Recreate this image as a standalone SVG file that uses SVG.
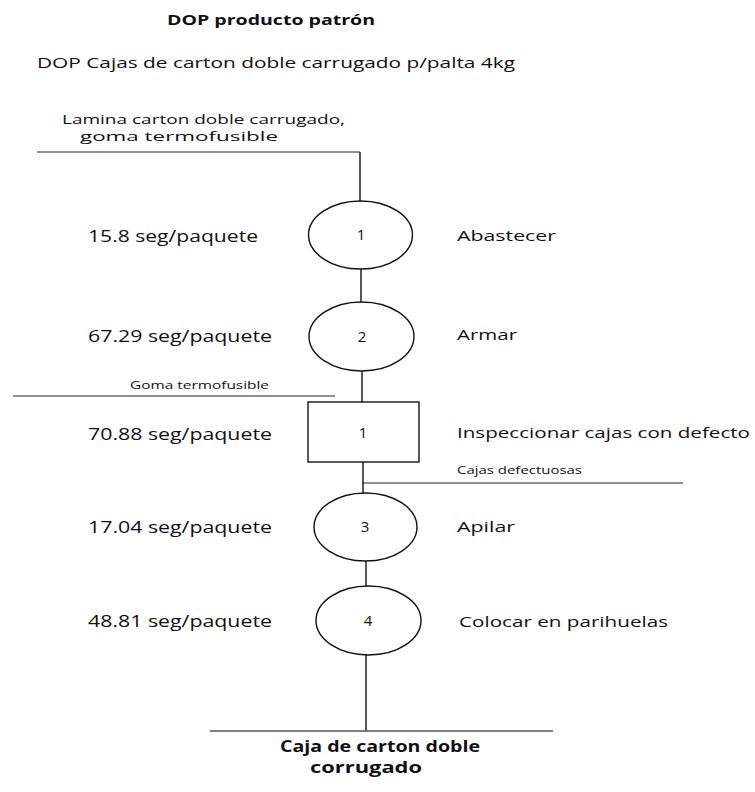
<svg xmlns="http://www.w3.org/2000/svg" width="755" height="792" viewBox="0 0 755 792">
  <style>
    text { font-family: "Open Sans", "Liberation Sans", sans-serif; fill: #111; }
    .title { font-size: 14px; font-weight: bold; }
    .sub { font-size: 15px; }
    .mat { font-size: 12px; }
    .small { font-size: 11px; }
    .time { font-size: 16px; }
    .act { font-size: 15px; }
    .num { font-size: 15px; text-anchor: middle; }
    .out { font-size: 16px; font-weight: bold; }
    .shape { fill: #fff; stroke: #111; stroke-width: 1.4; }
    .link { stroke: #111; stroke-width: 1.4; fill: none; }
    .feed { stroke: #222; stroke-width: 1.2; fill: none; }
    .grey { stroke: #555; stroke-width: 1.4; fill: none; }
  </style>

  <rect width="755" height="792" fill="#fff"/>

  <!-- headings -->
  <text class="title" x="167" y="25" textLength="208" lengthAdjust="spacingAndGlyphs">DOP producto patrón</text>
  <text class="sub" x="37" y="68" textLength="478" lengthAdjust="spacingAndGlyphs">DOP Cajas de carton doble carrugado p/palta 4kg</text>

  <!-- connectors: main flow and material feed lines -->
  <g id="connectors">
    <line class="feed" x1="37" y1="152" x2="360" y2="152"/>
    <line class="link" x1="360" y1="152" x2="360" y2="201"/>
    <line class="link" x1="361" y1="269" x2="361" y2="302"/>
    <line class="link" x1="362" y1="371" x2="362" y2="402"/>
    <line class="feed" x1="13" y1="396" x2="335" y2="396"/>
    <line class="link" x1="363" y1="462" x2="363" y2="493"/>
    <line class="feed" x1="362" y1="483" x2="683" y2="483"/>
    <line class="link" x1="366" y1="561" x2="366" y2="586"/>
    <line class="link" x1="366" y1="655" x2="366" y2="731"/>
    <line class="grey" x1="210" y1="731" x2="553" y2="731"/>
  </g>

  <!-- input materials -->
  <g id="input-materials">
    <text class="mat" x="62" y="124" textLength="283" lengthAdjust="spacingAndGlyphs">Lamina carton doble carrugado,</text>
    <text class="mat" x="80" y="141" textLength="198" lengthAdjust="spacingAndGlyphs">goma termofusible</text>
  </g>

  <!-- operation 1 -->
  <g id="op1">
    <ellipse class="shape" cx="360.5" cy="235" rx="52" ry="34"/>
    <text class="num" x="361" y="240">1</text>
    <text class="time" x="88" y="242" textLength="170" lengthAdjust="spacingAndGlyphs">15.8 seg/paquete</text>
    <text class="act" x="457" y="241" textLength="99" lengthAdjust="spacingAndGlyphs">Abastecer</text>
  </g>

  <!-- operation 2 -->
  <g id="op2">
    <ellipse class="shape" cx="361.5" cy="336.5" rx="52.5" ry="34.5"/>
    <text class="num" x="362" y="342">2</text>
    <text class="time" x="88" y="342" textLength="184" lengthAdjust="spacingAndGlyphs">67.29 seg/paquete</text>
    <text class="act" x="457" y="340" textLength="60" lengthAdjust="spacingAndGlyphs">Armar</text>
  </g>

  <!-- glue feed -->
  <g id="glue-feed">
    <text class="small" x="130" y="389" textLength="139" lengthAdjust="spacingAndGlyphs">Goma termofusible</text>
  </g>

  <!-- inspection 1 -->
  <g id="insp1">
    <rect class="shape" x="308" y="402" width="111" height="60"/>
    <text class="num" x="363" y="438">1</text>
    <text class="time" x="88" y="440" textLength="184" lengthAdjust="spacingAndGlyphs">70.88 seg/paquete</text>
    <text class="act" x="457" y="438" textLength="293" lengthAdjust="spacingAndGlyphs">Inspeccionar cajas con defecto</text>
  </g>

  <!-- rejected boxes -->
  <g id="rejects">
    <text class="small" x="457" y="474" textLength="125" lengthAdjust="spacingAndGlyphs">Cajas defectuosas</text>
  </g>

  <!-- operation 3 -->
  <g id="op3">
    <ellipse class="shape" cx="365.5" cy="527" rx="51.5" ry="34"/>
    <text class="num" x="365" y="532">3</text>
    <text class="time" x="88" y="533" textLength="184" lengthAdjust="spacingAndGlyphs">17.04 seg/paquete</text>
    <text class="act" x="457" y="532" textLength="58" lengthAdjust="spacingAndGlyphs">Apilar</text>
  </g>

  <!-- operation 4 -->
  <g id="op4">
    <ellipse class="shape" cx="368.5" cy="620.5" rx="52.5" ry="34.5"/>
    <text class="num" x="368" y="626">4</text>
    <text class="time" x="88" y="627" textLength="184" lengthAdjust="spacingAndGlyphs">48.81 seg/paquete</text>
    <text class="act" x="459" y="627" textLength="209" lengthAdjust="spacingAndGlyphs">Colocar en parihuelas</text>
  </g>

  <!-- final product -->
  <g id="product">
    <text class="out" x="280" y="752" textLength="200" lengthAdjust="spacingAndGlyphs">Caja de carton doble</text>
    <text class="out" x="310" y="773" textLength="112" lengthAdjust="spacingAndGlyphs">corrugado</text>
  </g>
</svg>
